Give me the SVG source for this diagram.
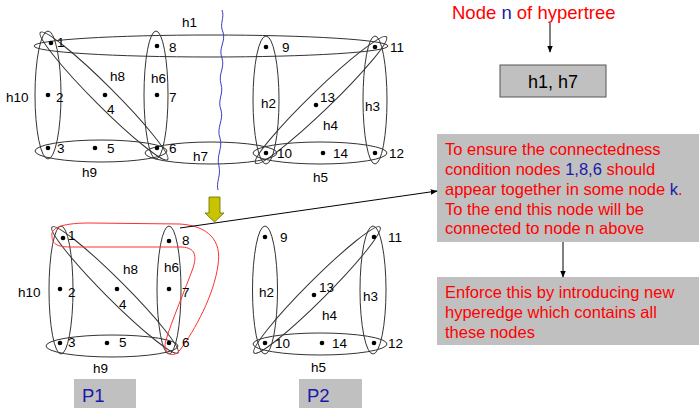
<svg xmlns="http://www.w3.org/2000/svg" width="699" height="408" viewBox="0 0 699 408">
<defs>
<style>
.e{fill:none;stroke:#333;stroke-width:1}
.d{fill:#000}
.l{font-family:"Liberation Sans",Arial,sans-serif;font-size:13.5px;fill:#000}
.r{font-family:"Liberation Sans",Arial,sans-serif;font-size:16.5px;fill:#ff0000}
.b{fill:#1a1aa8}
.box{fill:#c0c0c0}
.c{stroke:#000;stroke-width:1;fill:none}
</style>
<marker id="ah" viewBox="0 0 10 10" refX="9" refY="5" markerWidth="7" markerHeight="7" orient="auto" markerUnits="userSpaceOnUse">
<path d="M0,1 L10,5 L0,9 z" fill="#000"/>
</marker>
</defs>
<rect width="699" height="408" fill="#fff"/>

<g id="top-graph">
<ellipse class="e" cx="211" cy="46" rx="177" ry="11"/>
<ellipse class="e" cx="48" cy="95" rx="13" ry="64"/>
<ellipse class="e" cx="156" cy="95" rx="12" ry="64"/>
<ellipse class="e" cx="101" cy="151" rx="66" ry="11"/>
<ellipse class="e" cx="211" cy="153" rx="66" ry="11"/>
<ellipse class="e" cx="104" cy="96" rx="90" ry="10" transform="rotate(45 104 96)"/>
<ellipse class="e" cx="266" cy="100" rx="13" ry="64"/>
<ellipse class="e" cx="375" cy="100" rx="12" ry="64"/>
<ellipse class="e" cx="320" cy="153" rx="67" ry="11"/>
<ellipse class="e" cx="321" cy="100" rx="91" ry="10" transform="rotate(-44 321 100)"/>
<g id="t-dots">
<circle class="d" cx="51" cy="43" r="2.3"/>
<circle class="d" cx="48" cy="95" r="2.3"/>
<circle class="d" cx="48" cy="148" r="2.3"/>
<circle class="d" cx="95" cy="148" r="2.3"/>
<circle class="d" cx="105" cy="95" r="2.3"/>
<circle class="d" cx="157" cy="46" r="2.3"/>
<circle class="d" cx="157" cy="95" r="2.3"/>
<circle class="d" cx="157" cy="148" r="2.3"/>
<circle class="d" cx="266" cy="47" r="2.3"/>
<circle class="d" cx="375" cy="47" r="2.3"/>
<circle class="d" cx="316" cy="105" r="2.3"/>
<circle class="d" cx="266" cy="153" r="2.3"/>
<circle class="d" cx="323" cy="153" r="2.3"/>
<circle class="d" cx="375" cy="153" r="2.3"/>
</g>
<g id="t-labels">
<text class="l" x="57" y="47">1</text>
<text class="l" x="169" y="52">8</text>
<text class="l" x="182" y="27">h1</text>
<text class="l" x="6" y="102">h10</text>
<text class="l" x="56" y="102">2</text>
<text class="l" x="110" y="81">h8</text>
<text class="l" x="151" y="83">h6</text>
<text class="l" x="169" y="102">7</text>
<text class="l" x="107" y="114">4</text>
<text class="l" x="57" y="153">3</text>
<text class="l" x="107" y="153">5</text>
<text class="l" x="169" y="153">6</text>
<text class="l" x="193" y="161">h7</text>
<text class="l" x="82" y="177">h9</text>
<text class="l" x="282" y="52">9</text>
<text class="l" x="390" y="52">11</text>
<text class="l" x="261" y="108">h2</text>
<text class="l" x="320" y="102">13</text>
<text class="l" x="365" y="111">h3</text>
<text class="l" x="323" y="130">h4</text>
<text class="l" x="277" y="158">10</text>
<text class="l" x="333" y="158">14</text>
<text class="l" x="389" y="158">12</text>
<text class="l" x="313" y="182">h5</text>
</g>
</g>

<g id="cut-line">
<path d="M222,10 C225,18 219,24 223,32 C226,42 218,48 222,58 C225,68 218,74 221,84 C224,94 217,100 221,110 C224,120 216,128 220,138 C223,148 216,156 219,166 C221,176 216,182 218,190" fill="none" stroke="#3c3cc8" stroke-width="1"/>
</g>

<g id="down-arrow">
<path d="M209,197 L220,197 L220,213 L224,213 L214.5,222 L205,213 L209,213 Z" fill="#c8c400" stroke="#6b6b00" stroke-width="0.8"/>
</g>

<g id="P1-graph">
<ellipse class="e" cx="61" cy="290" rx="12" ry="64"/>
<ellipse class="e" cx="169" cy="290" rx="12" ry="64"/>
<ellipse class="e" cx="112" cy="346" rx="66" ry="11"/>
<ellipse class="e" cx="115" cy="290" rx="89" ry="10" transform="rotate(45 115 290)"/>
<path d="M52,236 C50,226 68,223 90,223 L180,224 C208,226 222,240 218,265 C214,295 195,330 180,350 C172,360 162,352 166,340 C172,320 185,290 193,268 C198,253 193,247 180,247 L70,247 C56,247 52,243 52,236 Z" fill="none" stroke="#ff3030" stroke-width="1"/>
<circle class="d" cx="63" cy="238" r="2.3"/>
<circle class="d" cx="60" cy="289" r="2.3"/>
<circle class="d" cx="60" cy="343" r="2.3"/>
<circle class="d" cx="107" cy="343" r="2.3"/>
<circle class="d" cx="117" cy="289" r="2.3"/>
<circle class="d" cx="169" cy="241" r="2.3"/>
<circle class="d" cx="169" cy="289" r="2.3"/>
<circle class="d" cx="169" cy="343" r="2.3"/>
<text class="l" x="68" y="240">1</text>
<text class="l" x="182" y="245">8</text>
<text class="l" x="123" y="274">h8</text>
<text class="l" x="164" y="272">h6</text>
<text class="l" x="18" y="297">h10</text>
<text class="l" x="68" y="297">2</text>
<text class="l" x="182" y="297">7</text>
<text class="l" x="119" y="309">4</text>
<text class="l" x="68" y="347">3</text>
<text class="l" x="119" y="347">5</text>
<text class="l" x="182" y="347">6</text>
<text class="l" x="93" y="373">h9</text>
</g>

<g id="P2-graph">
<ellipse class="e" cx="265" cy="290" rx="12.5" ry="64"/>
<ellipse class="e" cx="373" cy="290" rx="13" ry="64"/>
<ellipse class="e" cx="320" cy="344" rx="67" ry="11"/>
<ellipse class="e" cx="317" cy="290" rx="89" ry="10" transform="rotate(-45 317 290)"/>
<circle class="d" cx="265" cy="237" r="2.3"/>
<circle class="d" cx="374" cy="237" r="2.3"/>
<circle class="d" cx="314" cy="295" r="2.3"/>
<circle class="d" cx="265" cy="343" r="2.3"/>
<circle class="d" cx="322" cy="343" r="2.3"/>
<circle class="d" cx="374" cy="343" r="2.3"/>
<text class="l" x="280" y="242">9</text>
<text class="l" x="388" y="242">11</text>
<text class="l" x="259" y="297">h2</text>
<text class="l" x="319" y="292">13</text>
<text class="l" x="363" y="301">h3</text>
<text class="l" x="322" y="320">h4</text>
<text class="l" x="275" y="348">10</text>
<text class="l" x="332" y="348">14</text>
<text class="l" x="388" y="348">12</text>
<text class="l" x="311" y="372">h5</text>
</g>

<g id="P1-label">
<rect class="box" x="74" y="379" width="62" height="29"/>
<text x="82" y="402" font-family="'Liberation Sans',Arial,sans-serif" font-size="18.5" fill="#1a1aa8">P1</text>
</g>
<g id="P2-label">
<rect class="box" x="299" y="379" width="63" height="29"/>
<text x="307" y="402" font-family="'Liberation Sans',Arial,sans-serif" font-size="18.5" fill="#1a1aa8">P2</text>
</g>

<g id="title">
<text x="452" y="19" font-family="'Liberation Sans',Arial,sans-serif" font-size="18.5" fill="#ff0000">Node <tspan class="b">n</tspan> of hypertree</text>
</g>

<g id="node-n">
<rect x="500" y="65" width="106" height="32" fill="#c0c0c0" stroke="#555" stroke-width="1"/>
<text x="553" y="88" text-anchor="middle" font-family="'Liberation Sans',Arial,sans-serif" font-size="18" fill="#000">h1, h7</text>
</g>

<g id="note1">
<rect class="box" x="437" y="134" width="262" height="108"/>
<text class="r" x="445" y="155">To ensure the connectedness</text>
<text class="r" x="445" y="175">condition nodes <tspan class="b">1,8,6</tspan> should</text>
<text class="r" x="445" y="194.5">appear together in some node <tspan class="b">k</tspan>.</text>
<text class="r" x="445" y="214.5">To the end this node will be</text>
<text class="r" x="445" y="234">connected to node n above</text>
</g>

<g id="note2">
<rect class="box" x="437" y="277" width="262" height="68"/>
<text class="r" x="445" y="298">Enforce this by introducing new</text>
<text class="r" x="445" y="318">hyperedge which contains all</text>
<text class="r" x="445" y="338">these nodes</text>
</g>

<g id="connectors">
<line class="c" x1="550" y1="23" x2="550" y2="52" marker-end="url(#ah)"/>
<line class="c" x1="180" y1="228" x2="437" y2="191" marker-end="url(#ah)"/>
<line class="c" x1="563" y1="242" x2="563" y2="277" marker-end="url(#ah)"/>
</g>
</svg>
